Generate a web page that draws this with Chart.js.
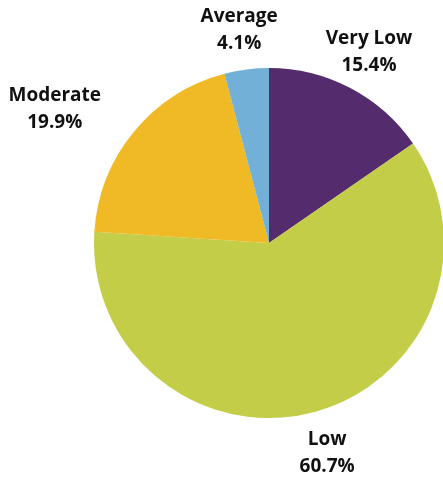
<!DOCTYPE html>
<html>
<head>
<meta charset="utf-8">
<script src="https://cdn.jsdelivr.net/npm/chart.js@4"></script>
<style>
html,body{margin:0;padding:0;background:#fff;overflow:hidden;}
#wrap{width:500px;height:477px;}
</style>
</head>
<body>
<div id="wrap"><canvas id="c" width="500" height="477"></canvas></div>
<script>
const categories = ["Very Low", "Low", "Moderate", "Average"];
const values = [15.4, 60.7, 19.9, 4.1];
const colors = ["#542B6C", "#C3CD48", "#F0BA27", "#72B0D7"];
// label placement: radius factor and angular shift (degrees) per slice
const labelRadius = [1.23, 1.245, 1.445, 1.23];
const labelShift = [0, 0, -7.4, -0.6];

const labelPlugin = {
  id: 'outLabels',
  afterDatasetsDraw(chart) {
    const ctx = chart.ctx;
    const meta = chart.getDatasetMeta(0);
    ctx.save();
    ctx.fillStyle = '#111111';
    ctx.font = 'bold 19px "Open Sans", sans-serif';
    ctx.textAlign = 'center';
    ctx.textBaseline = 'middle';
    meta.data.forEach((arc, i) => {
      const p = arc.getProps(['x','y','startAngle','endAngle','outerRadius'], true);
      const mid = (p.startAngle + p.endAngle) / 2 + labelShift[i] * Math.PI / 180;
      const d = p.outerRadius * labelRadius[i];
      const cx = p.x + Math.cos(mid) * d;
      const cy = p.y + Math.sin(mid) * d;
      ctx.fillText(categories[i], cx, cy - 13.5);
      ctx.fillText(values[i].toFixed(1) + '%', cx, cy + 13.5);
    });
    ctx.restore();
  }
};

new Chart(document.getElementById('c'), {
  type: 'pie',
  data: {
    labels: categories,
    datasets: [{ data: values, backgroundColor: colors, borderWidth: 0 }]
  },
  options: {
    responsive: false,
    animation: false,
    layout: { padding: { left: 94, top: 68, right: 56, bottom: 59 } },
    plugins: { legend: { display: false }, tooltip: { enabled: false } }
  },
  plugins: [labelPlugin]
});
</script>
</body>
</html>
